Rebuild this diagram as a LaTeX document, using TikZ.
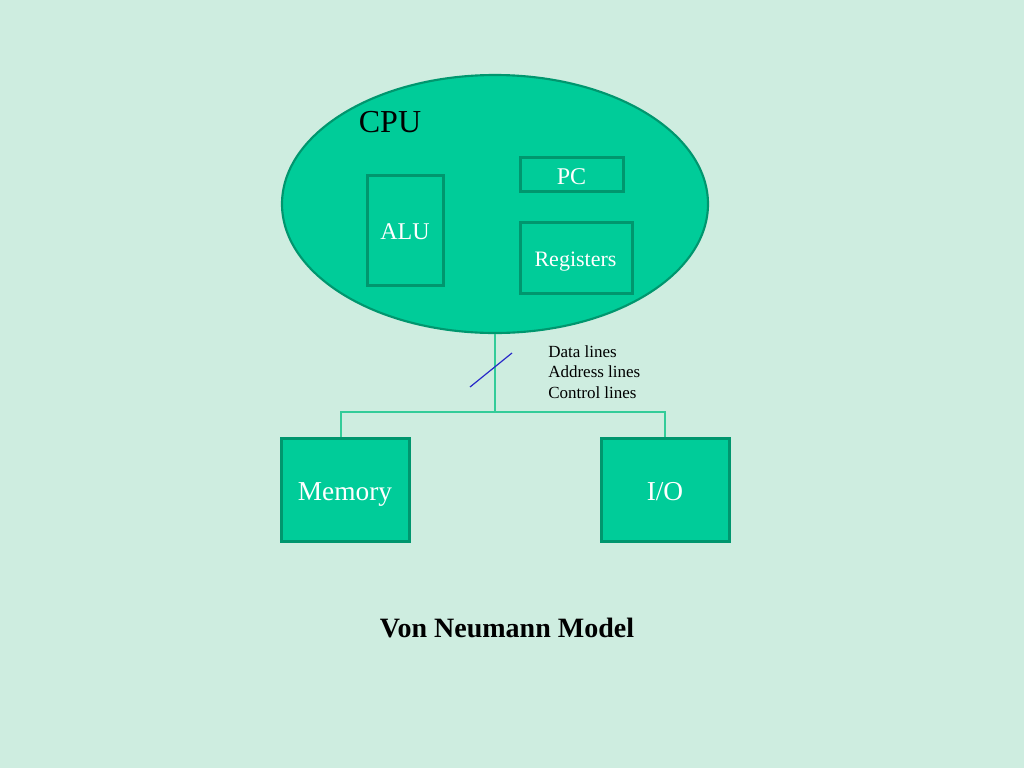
\documentclass[tikz,border=0pt]{standalone}
\usepackage{fontspec}
\setmainfont{Liberation Serif}
\usetikzlibrary{shapes.geometric}
\definecolor{bg}{RGB}{206,237,224}
\definecolor{cpufill}{RGB}{0,204,153}
\definecolor{cpuedge}{RGB}{0,150,110}
\definecolor{busline}{RGB}{51,204,153}
\definecolor{slashblue}{RGB}{40,40,200}
\tikzset{
  unitbox/.style={draw=cpuedge, line width=2.25pt, fill=cpufill, inner sep=0pt},
  unitlabel/.style={text=white, anchor=base, inner sep=0pt},
  bus/.style={draw=busline, line width=1.2pt},
}
\begin{document}
\begin{tikzpicture}[x=0.75pt, y=-0.75pt]
\fill[bg] (0,0) rectangle (1024,768);
\useasboundingbox (0,0) rectangle (1024,768);
\node[ellipse, draw=cpuedge, line width=1.6pt, fill=cpufill, minimum width=426*0.75pt, minimum height=258*0.75pt, inner sep=0pt] (cpu) at (495,204) {};
\node[anchor=base, inner sep=0pt, font=\fontsize{24}{28}\selectfont] (cpulabel) at (390,132) {CPU};
\node[unitbox, minimum width=76*0.75pt, minimum height=110*0.75pt] (alu) at (405,230) {};
\node[unitlabel, font=\fontsize{18}{21}\selectfont] (alulabel) at (405,239) {ALU};
\node[unitbox, minimum width=103*0.75pt, minimum height=34*0.75pt] (pc) at (571.5,174) {};
\node[unitlabel, font=\fontsize{18}{21}\selectfont] (pclabel) at (571.5,184) {PC};
\node[unitbox, minimum width=112*0.75pt, minimum height=71*0.75pt] (reg) at (576,257.5) {};
\node[unitlabel, font=\fontsize{16.5}{19}\selectfont] (reglabel) at (575.5,266) {Registers};
\node[unitbox, minimum width=128*0.75pt, minimum height=103*0.75pt] (mem) at (345,489.5) {};
\node[unitlabel, font=\fontsize{20.5}{24}\selectfont] (memlabel) at (345,500) {Memory};
\node[unitbox, minimum width=128*0.75pt, minimum height=103*0.75pt] (io) at (665,489.5) {};
\node[unitlabel, font=\fontsize{20.5}{24}\selectfont] (iolabel) at (665,500) {I/O};
\coordinate (j) at (495,412);
\draw[bus] (cpu.south) -- (j);
\draw[bus] (j) -| ([xshift=-4*0.75pt]mem.north);
\draw[bus] (j) -| (io.north);
\coordinate (s1) at (470,387);
\coordinate (s2) at (512,353);
\draw[slashblue, line width=0.9pt] (s1) -- (s2);
\node[anchor=north west, align=left, inner sep=0pt, font=\fontsize{12.75}{15.4}\selectfont] (buslabel) at (548,345) {Data lines\\Address lines\\Control lines};
\node[font=\bfseries\fontsize{21}{25}\selectfont] (title) at (507,628) {Von Neumann Model};
\end{tikzpicture}
\end{document}
